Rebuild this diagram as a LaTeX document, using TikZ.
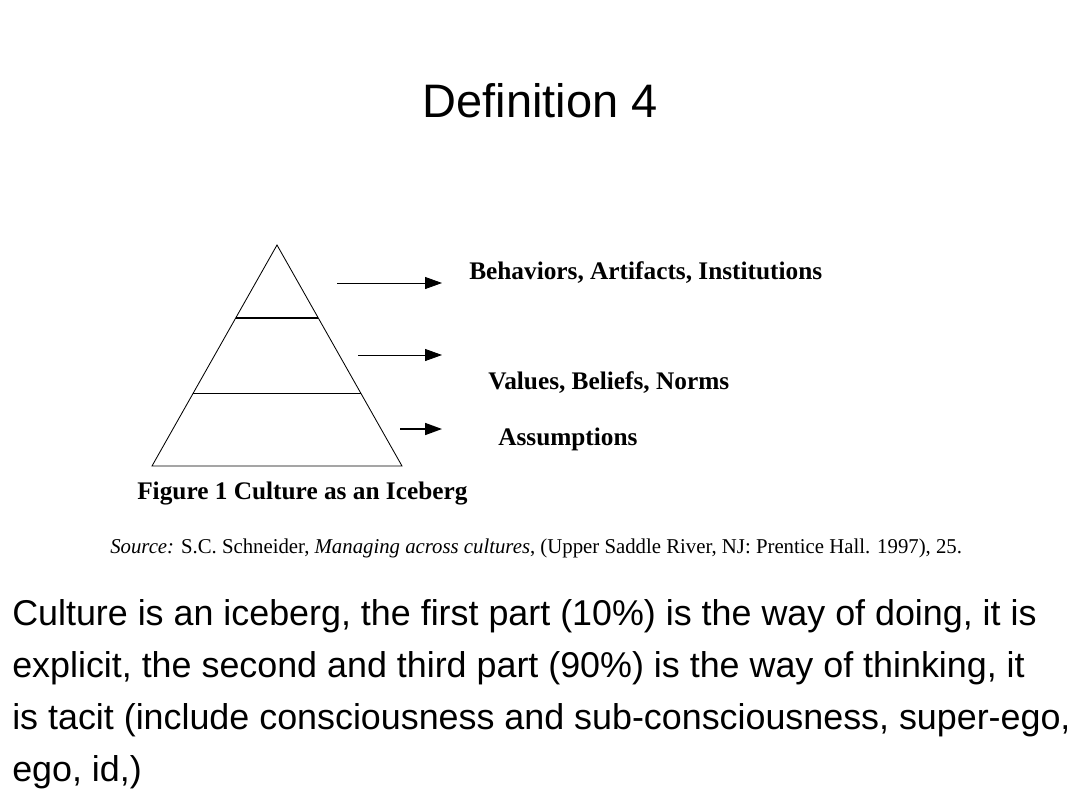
\documentclass[tikz,border=0pt]{standalone}
\usepackage{fontspec}
\setmainfont{Liberation Serif}
\newfontfamily\arialfont{Liberation Sans}
\usetikzlibrary{arrows.meta}
\tikzset{
  edge/.style={line width=0.6pt},
  arr/.style={line width=0.6pt,-{Triangle[length=12pt,width=8.5pt]}},
  lbl/.style={font=\bfseries\fontsize{18}{20}\selectfont, inner sep=0pt, anchor=west},
  body/.style={font=\arialfont\fontsize{25.5}{37}\selectfont, inner sep=0pt, anchor=base west},
}
\begin{document}
\begin{tikzpicture}[x=0.025cm,y=-0.025cm]
\useasboundingbox[fill=white] (0,0) rectangle (1080,810);
% title
\node[font=\arialfont\fontsize{33.4}{40}\selectfont, inner sep=0pt, anchor=base] (title) at (540,117) {Definition 4};
% iceberg
\coordinate (apex) at (277,245);
\coordinate (bl) at (152,466);
\coordinate (br) at (402,466);
\draw[edge] (apex) -- (bl) -- (br) -- cycle;
\coordinate (l1a) at (235.7,318);
\coordinate (l1b) at (318.3,318);
\coordinate (l2a) at (193.3,393);
\coordinate (l2b) at (360.7,393);
\draw[line width=1.3pt] (l1a) -- (l1b);
\draw[edge] (l2a) -- (l2b);
% arrows
\coordinate (a1s) at (337,283);
\coordinate (a1e) at (442,283);
\coordinate (a2s) at (358,355);
\coordinate (a2e) at (442,355);
\coordinate (a3s) at (400,429);
\coordinate (a3e) at (442,429);
\draw[arr] (a1s) -- (a1e);
\draw[arr] (a2s) -- (a2e);
\draw[arr, line width=1.1pt] (a3s) -- (a3e);
% labels
\node[lbl] (beh) at (469,273) {Behaviors, Artifacts, Institutions};
\node[lbl] (val) at (488,383) {Values, Beliefs, Norms};
\node[lbl] (ass) at (498,439) {Assumptions};
\node[lbl] (fig) at (137,494) {Figure 1 Culture as an Iceberg};
\node[inner sep=0pt, anchor=west, font=\fontsize{15}{17}\selectfont] (src) at (110,548)
  {\scalebox{0.985}[1]{\textit{Source:} S.C. Schneider, \textit{Managing across cultures}, (Upper Saddle River, NJ: Prentice Hall. 1997), 25.}};
% body text
\node[body] (p1) at (12,625) {Culture is an iceberg, the first part (10\%) is the way of doing, it is};
\node[body] (p2) at (12,677) {explicit, the second and third part (90\%) is the way of thinking, it};
\node[body] (p3) at (12,729) {is tacit (include consciousness and sub-consciousness, super-ego,};
\node[body] (p4) at (12,781) {ego, id,)};
\end{tikzpicture}
\end{document}
